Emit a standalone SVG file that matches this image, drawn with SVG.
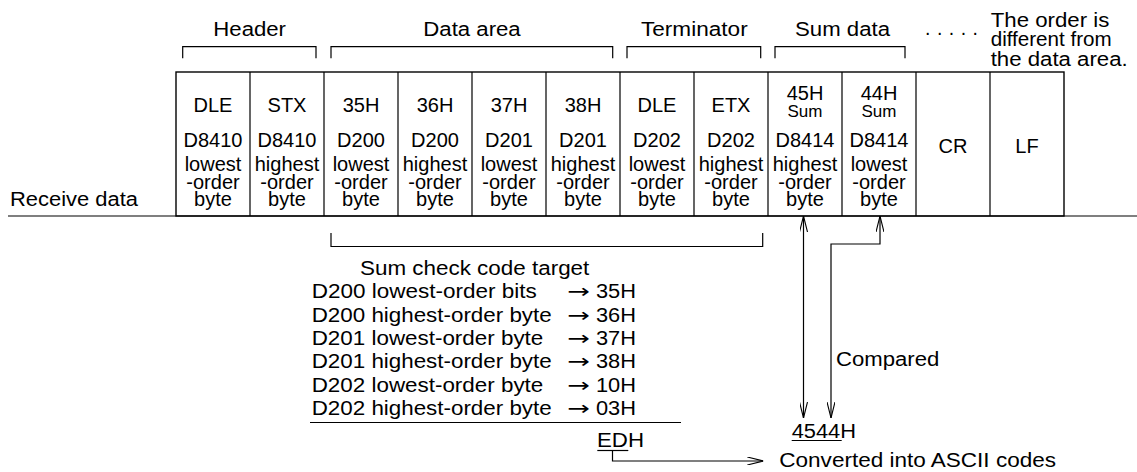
<svg xmlns="http://www.w3.org/2000/svg" width="1137" height="472" viewBox="0 0 1137 472">
<style>
text{font-family:"Liberation Sans",Arial,sans-serif;fill:#000}
.c{font-size:20px;text-anchor:middle}
.s{font-size:17px;text-anchor:middle}
.l{font-size:19.5px}
.ar{font-family:"DejaVu Sans","Liberation Sans",sans-serif;font-size:19.5px}
.ln{fill:none;stroke:#000;stroke-width:1.2}
.cell{fill:#fff;stroke:#000;stroke-width:1.4}
</style>
<defs>
<marker id="ah" viewBox="0 0 16 8" refX="16" refY="4" markerWidth="16" markerHeight="8" markerUnits="userSpaceOnUse" orient="auto-start-reverse">
<path d="M0,0 L16,4 L0,8" fill="none" stroke="#000" stroke-width="1.1"/>
</marker>
</defs>
<rect width="1137" height="472" fill="#fff"/>
<g id="labels-top">
<text class="l" x="213.3" y="36" textLength="72.7" lengthAdjust="spacingAndGlyphs">Header</text>
<text class="l" x="423.3" y="36" textLength="97.4" lengthAdjust="spacingAndGlyphs">Data area</text>
<text class="l" x="641" y="36" textLength="106.7" lengthAdjust="spacingAndGlyphs">Terminator</text>
<text class="l" x="795" y="36" textLength="95" lengthAdjust="spacingAndGlyphs">Sum data</text>
<text class="l" x="925" y="35" textLength="53" lengthAdjust="spacing">. . . . .</text>
<text class="l" x="990.7" y="26.5" textLength="118.6" lengthAdjust="spacingAndGlyphs">The order is</text>
<text class="l" x="990.7" y="46" textLength="121" lengthAdjust="spacingAndGlyphs">different from</text>
<text class="l" x="990.7" y="65.5" textLength="137" lengthAdjust="spacingAndGlyphs">the data area.</text>
<text class="l" x="10" y="206" textLength="128" lengthAdjust="spacingAndGlyphs">Receive data</text>
</g>
<g id="brackets-top">
<path class="ln" d="M182.7,58.3 V46.7 H316 V58.3"/>
<path class="ln" d="M331,58.3 V46.7 H612.7 V58.3"/>
<path class="ln" d="M627,58.3 V46.7 H760.7 V58.3"/>
<path class="ln" d="M775,58.3 V46.7 H905 V58.3"/>
</g>
<g id="cells">
<rect class="cell" x="176" y="72" width="888" height="144"/>
<path class="ln" stroke-width="1.4" d="M250,72V216 M324,72V216 M398,72V216 M472,72V216 M546,72V216 M620,72V216 M694,72V216 M768,72V216 M842,72V216 M916,72V216 M990,72V216"/>
</g>
<g id="cell-text">
<text class="c" x="213" y="112">DLE</text>
<text class="c" x="287" y="112">STX</text>
<text class="c" x="361" y="112">35H</text>
<text class="c" x="435" y="112">36H</text>
<text class="c" x="509" y="112">37H</text>
<text class="c" x="583" y="112">38H</text>
<text class="c" x="657" y="112">DLE</text>
<text class="c" x="731" y="112">ETX</text>
<text class="c" x="805" y="100">45H</text>
<text class="s" x="805" y="116.5">Sum</text>
<text class="c" x="879" y="100">44H</text>
<text class="s" x="879" y="116.5">Sum</text>
<text class="c" x="213" y="147">D8410</text>
<text class="c" x="287" y="147">D8410</text>
<text class="c" x="361" y="147">D200</text>
<text class="c" x="435" y="147">D200</text>
<text class="c" x="509" y="147">D201</text>
<text class="c" x="583" y="147">D201</text>
<text class="c" x="657" y="147">D202</text>
<text class="c" x="731" y="147">D202</text>
<text class="c" x="805" y="147">D8414</text>
<text class="c" x="879" y="147">D8414</text>
<text class="c" x="953" y="153">CR</text>
<text class="c" x="1027" y="153">LF</text>
<text class="c" x="213" y="170.5">lowest</text>
<text class="c" x="287" y="170.5">highest</text>
<text class="c" x="361" y="170.5">lowest</text>
<text class="c" x="435" y="170.5">highest</text>
<text class="c" x="509" y="170.5">lowest</text>
<text class="c" x="583" y="170.5">highest</text>
<text class="c" x="657" y="170.5">lowest</text>
<text class="c" x="731" y="170.5">highest</text>
<text class="c" x="805" y="170.5">highest</text>
<text class="c" x="879" y="170.5">lowest</text>
<text class="c" x="213" y="188.5">-order</text>
<text class="c" x="287" y="188.5">-order</text>
<text class="c" x="361" y="188.5">-order</text>
<text class="c" x="435" y="188.5">-order</text>
<text class="c" x="509" y="188.5">-order</text>
<text class="c" x="583" y="188.5">-order</text>
<text class="c" x="657" y="188.5">-order</text>
<text class="c" x="731" y="188.5">-order</text>
<text class="c" x="805" y="188.5">-order</text>
<text class="c" x="879" y="188.5">-order</text>
<text class="c" x="213" y="206">byte</text>
<text class="c" x="287" y="206">byte</text>
<text class="c" x="361" y="206">byte</text>
<text class="c" x="435" y="206">byte</text>
<text class="c" x="509" y="206">byte</text>
<text class="c" x="583" y="206">byte</text>
<text class="c" x="657" y="206">byte</text>
<text class="c" x="731" y="206">byte</text>
<text class="c" x="805" y="206">byte</text>
<text class="c" x="879" y="206">byte</text>
</g>
<g id="sum-list">
<text class="l" x="360" y="275" textLength="229.3" lengthAdjust="spacingAndGlyphs">Sum check code target</text>
<text class="l" x="311.7" y="298.3" textLength="225" lengthAdjust="spacingAndGlyphs">D200 lowest-order bits</text>
<text class="l" x="311.7" y="321.7" textLength="240" lengthAdjust="spacingAndGlyphs">D200 highest-order byte</text>
<text class="l" x="311.7" y="345" textLength="231.6" lengthAdjust="spacingAndGlyphs">D201 lowest-order byte</text>
<text class="l" x="311.7" y="368.3" textLength="240" lengthAdjust="spacingAndGlyphs">D201 highest-order byte</text>
<text class="l" x="311.7" y="391.7" textLength="231.6" lengthAdjust="spacingAndGlyphs">D202 lowest-order byte</text>
<text class="l" x="311.7" y="415" textLength="240" lengthAdjust="spacingAndGlyphs">D202 highest-order byte</text>
<text class="ar" x="567.3" y="298.3" textLength="22.7" lengthAdjust="spacingAndGlyphs">→</text>
<text class="ar" x="567.3" y="321.7" textLength="22.7" lengthAdjust="spacingAndGlyphs">→</text>
<text class="ar" x="567.3" y="345" textLength="22.7" lengthAdjust="spacingAndGlyphs">→</text>
<text class="ar" x="567.3" y="368.3" textLength="22.7" lengthAdjust="spacingAndGlyphs">→</text>
<text class="ar" x="567.3" y="391.7" textLength="22.7" lengthAdjust="spacingAndGlyphs">→</text>
<text class="ar" x="567.3" y="415" textLength="22.7" lengthAdjust="spacingAndGlyphs">→</text>
<text class="l" x="596" y="298.3" textLength="40" lengthAdjust="spacingAndGlyphs">35H</text>
<text class="l" x="596" y="321.7" textLength="40" lengthAdjust="spacingAndGlyphs">36H</text>
<text class="l" x="596" y="345" textLength="40" lengthAdjust="spacingAndGlyphs">37H</text>
<text class="l" x="596" y="368.3" textLength="40" lengthAdjust="spacingAndGlyphs">38H</text>
<text class="l" x="596" y="391.7" textLength="40" lengthAdjust="spacingAndGlyphs">10H</text>
<text class="l" x="596" y="415" textLength="40" lengthAdjust="spacingAndGlyphs">03H</text>
<text class="l" x="597" y="447.3" textLength="47" lengthAdjust="spacingAndGlyphs">EDH</text>
</g>
<g id="results">
<text class="l" x="836" y="365.7" textLength="103.3" lengthAdjust="spacingAndGlyphs">Compared</text>
<text class="l" x="791.7" y="438.3" textLength="64.3" lengthAdjust="spacingAndGlyphs">4544H</text>
<text class="l" x="779.3" y="467.3" textLength="276.7" lengthAdjust="spacingAndGlyphs">Converted into ASCII codes</text>
</g>
<g id="connectors">
<path class="ln" d="M8,216 H1137"/>
<path class="ln" d="M331,233 V246.5 H762.7 V233"/>
<path class="ln" d="M310,422.5 H681"/>
<path class="ln" d="M597.3,450.5 H628.3"/>
<path class="ln" d="M791.7,440.5 H841.7"/>
<path class="ln" d="M803.5,418 V216" marker-start="url(#ah)" marker-end="url(#ah)"/>
<path class="ln" d="M831,418 V244 H880 V216" marker-start="url(#ah)" marker-end="url(#ah)"/>
<path class="ln" d="M612.5,450.5 V461 H763.3" marker-end="url(#ah)"/>
</g>
</svg>
